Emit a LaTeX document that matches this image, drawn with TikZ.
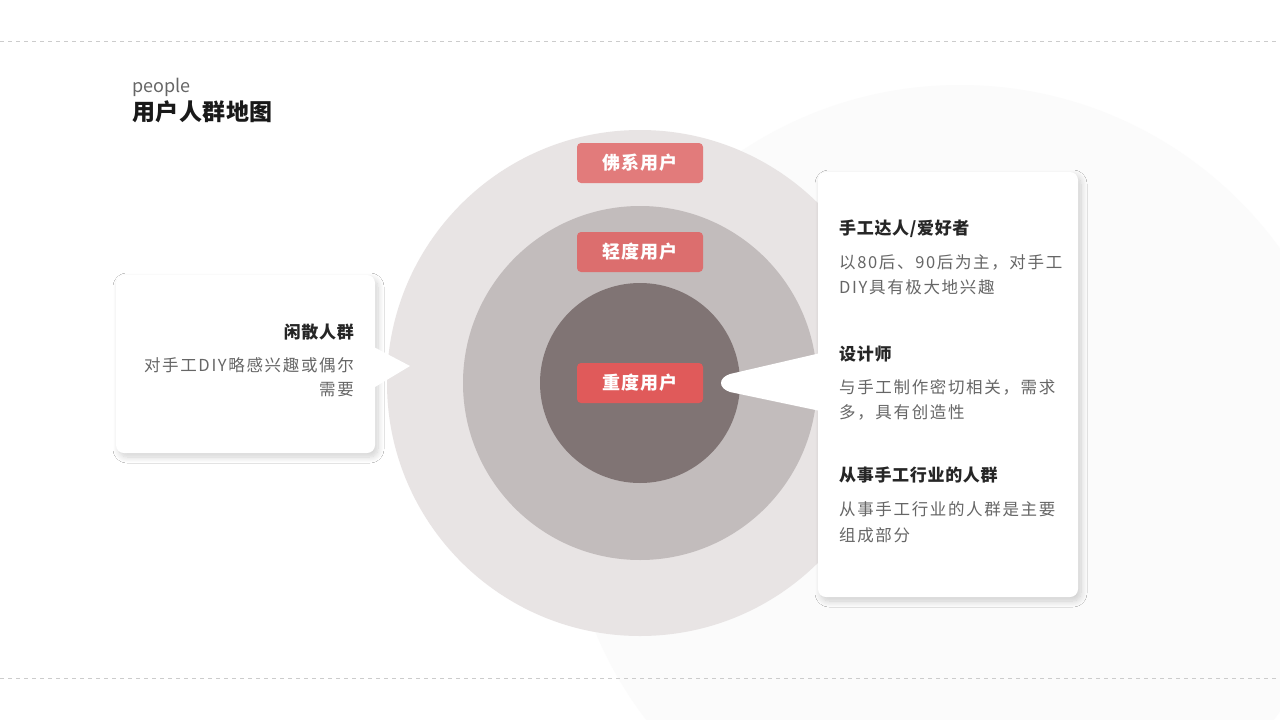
\documentclass[tikz,border=0pt]{standalone}
\usepackage{fontspec}
\setmainfont{Noto Sans CJK SC}
\usetikzlibrary{shadows.blur}
\definecolor{ring1}{HTML}{E8E4E4}
\definecolor{ring2}{HTML}{C2BCBC}
\definecolor{ring3}{HTML}{807474}
\definecolor{lab1}{HTML}{E27B7B}
\definecolor{lab2}{HTML}{DC6E6E}
\definecolor{lab3}{HTML}{E05A5A}
\definecolor{txtg}{HTML}{666666}
\tikzset{
 lab/.style={rounded corners=4pt,minimum width=126pt,minimum height=40pt,text=white,font=\fontsize{18}{20}\selectfont\addfontfeature{LetterSpace=4}\bfseries,inner sep=0},
 head/.style={font=\fontsize{17}{18}\selectfont\addfontfeature{LetterSpace=4}\bfseries,text=black!85,inner sep=0},
 body/.style={font=\fontsize{16.5}{18}\selectfont\addfontfeature{LetterSpace=10},text=txtg,inner sep=0},
 card/.style={fill=white,rounded corners=8pt,blur shadow={shadow blur steps=12,shadow blur radius=6pt,shadow xshift=3pt,shadow yshift=-4pt,shadow opacity=18}},
}
\begin{document}
\begin{tikzpicture}[x=1pt,y=-1pt]
\useasboundingbox (0,0) rectangle (1280,720);
\fill[white] (0,0) rectangle (1280,720);
\begin{scope}
\clip (0,0) rectangle (1280,720);
\fill[black!1.5] (960,480) circle (395);
\end{scope}
\draw[black!20,dash pattern=on 4pt off 4pt] (0,41) -- (1280,41);
\draw[black!20,dash pattern=on 4pt off 4pt] (0,678) -- (1280,678);
\node[anchor=west,inner sep=0,text=txtg,font=\fontsize{18}{20}\selectfont] (ppl) at (132,87) {people};
\node[anchor=west,inner sep=0,text=black!90,font=\fontsize{23}{25}\selectfont\addfontfeature{LetterSpace=2}\bfseries] (ttl) at (132,112) {用户人群地图};
\fill[ring1] (640,383) circle (253);
\fill[ring2] (640,383) circle (177);
\fill[ring3] (640,383) circle (100);
% left card
\path[card] (116,275) rectangle (375,453);
\fill[white] (370,345) -- (410,366) -- (370,390) -- cycle;
\node[head,anchor=east] (l1) at (354,332) {闲散人群};
\node[body,anchor=east] (l2) at (354,365) {对手工DIY略感兴趣或偶尔};
\node[body,anchor=east] (l3) at (354,390) {需要};
% right card
\path[card] (818,172) rectangle (1078,597);
\fill[white] (825,352) -- (730,374) .. controls (718,378) and (718,388) .. (730,392) -- (825,412) -- cycle;
\node[head,anchor=west] (r1) at (839,229) {手工达人/爱好者};
\node[body,anchor=west] (r2) at (839,262) {以80后、90后为主，对手工};
\node[body,anchor=west] (r3) at (839,287) {DIY具有极大地兴趣};
\node[head,anchor=west] (r4) at (839,354) {设计师};
\node[body,anchor=west] (r5) at (839,387) {与手工制作密切相关，需求};
\node[body,anchor=west] (r6) at (839,412) {多，具有创造性};
\node[head,anchor=west] (r7) at (839,475) {从事手工行业的人群};
\node[body,anchor=west] (r8) at (839,509) {从事手工行业的人群是主要};
\node[body,anchor=west] (r9) at (839,535) {组成部分};
% labels
\node[lab,fill=lab1] (a) at (640,163) {佛系用户};
\node[lab,fill=lab2] (b) at (640,252) {轻度用户};
\node[lab,fill=lab3] (c) at (640,383) {重度用户};
\end{tikzpicture}
\end{document}
